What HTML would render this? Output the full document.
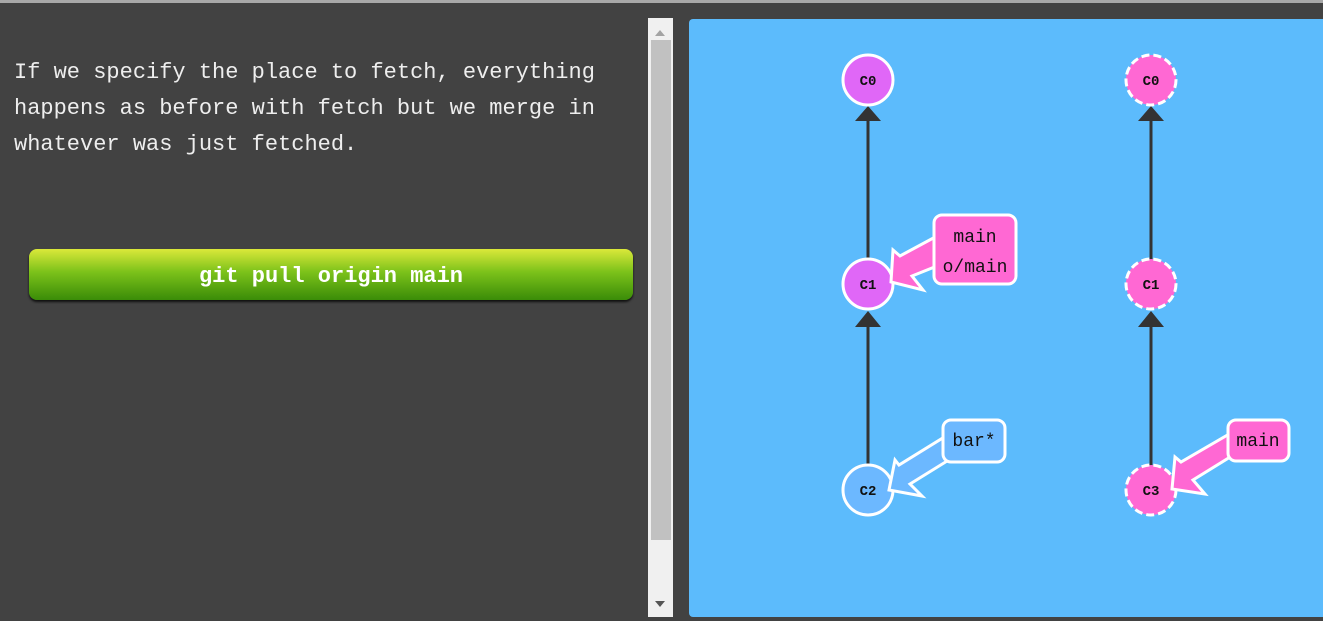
<!DOCTYPE html>
<html><head><meta charset="utf-8"><style>
html,body{margin:0;padding:0}
body{width:1323px;height:621px;background:#424242;position:relative;overflow:hidden;font-family:"Liberation Mono",monospace}
.top{position:absolute;left:0;top:0;width:1323px;height:3px;background:#a8a8a8}
.txt{position:absolute;left:14px;top:55px;color:#eee;font-size:22px;line-height:36px;white-space:pre}
.btn{position:absolute;left:29px;top:249px;width:604px;height:51px;border-radius:8px;background:linear-gradient(#dbe83a,#7cc21a 45%,#3a8c08);box-shadow:0 2px 2px #111;color:#fff;font-weight:bold;font-size:22px;text-align:center;line-height:55px}
.sb{position:absolute;left:648px;top:18px;width:25px;height:599px;background:#f0f0f0}
.thumb{position:absolute;left:651px;top:40px;width:20px;height:500px;background:#c1c1c1}
.panel{position:absolute;left:689px;top:19px;width:640px;height:598px;background:#5cbbfc;border-radius:4px}
svg{position:absolute;left:0;top:0}
</style></head><body>
<div class="top"></div>
<div class="txt">If we specify the place to fetch, everything
happens as before with fetch but we merge in
whatever was just fetched.</div>
<div class="btn">git pull origin main</div>
<div class="sb"></div><div class="thumb"></div>
<svg width="1323" height="621"><polygon points="655,36 665,36 660,30" fill="#a3a3a3"/><polygon points="655,601 665,601 660,607" fill="#555"/></svg>
<div class="panel"></div>
<svg width="1323" height="621" font-family="Liberation Mono, monospace">
<g stroke="#333" stroke-width="3">
<line x1="868" y1="112" x2="868" y2="260"/><line x1="868" y1="316" x2="868" y2="466"/>
<line x1="1151" y1="112" x2="1151" y2="260"/><line x1="1151" y1="316" x2="1151" y2="466"/>
</g>
<g fill="#333">
<polygon points="855,121 881,121 868,106"/><polygon points="855,327 881,327 868,311"/>
<polygon points="1138,121 1164,121 1151,106"/><polygon points="1138,327 1164,327 1151,311"/>
</g>
<g stroke="#fff" stroke-width="3" stroke-linejoin="miter">
<circle cx="868" cy="80" r="25" fill="#e067f7"/>
<circle cx="868" cy="284" r="25" fill="#e067f7"/>
<circle cx="868" cy="490" r="25" fill="#6cb8ff"/>
<g stroke-dasharray="8,4" fill="#ff68d3">
<circle cx="1151" cy="80" r="25"/><circle cx="1151" cy="284" r="25"/><circle cx="1151" cy="490" r="25"/>
</g>
<polygon points="891,282 893,250 900,256 937,236 937,266 912,276 923,290" fill="#ff68d3"/>
<polygon points="889,490 895,460 899,465 946,436 952,458 910,484 922,496" fill="#6cb8ff"/>
<polygon points="1172,489 1175,457 1181,462 1231,433 1235,454 1193,480 1205,494" fill="#ff68d3"/>
<rect x="934" y="215" width="82" height="69" rx="8" fill="#ff68d3"/>
<rect x="943" y="420" width="62" height="42" rx="8" fill="#6cb8ff"/>
<rect x="1228" y="420" width="61" height="41" rx="8" fill="#ff68d3"/>
</g>
<g font-size="14" font-weight="bold" text-anchor="middle" fill="#111">
<text x="868" y="85">C0</text><text x="868" y="289">C1</text><text x="868" y="495">C2</text>
<text x="1151" y="85">C0</text><text x="1151" y="289">C1</text><text x="1151" y="495">C3</text>
</g>
<g font-size="18" text-anchor="middle" fill="#111">
<text x="975" y="242">main</text><text x="975" y="272">o/main</text>
<text x="974" y="446">bar*</text><text x="1258" y="446">main</text>
</g>
</svg>
</body></html>
